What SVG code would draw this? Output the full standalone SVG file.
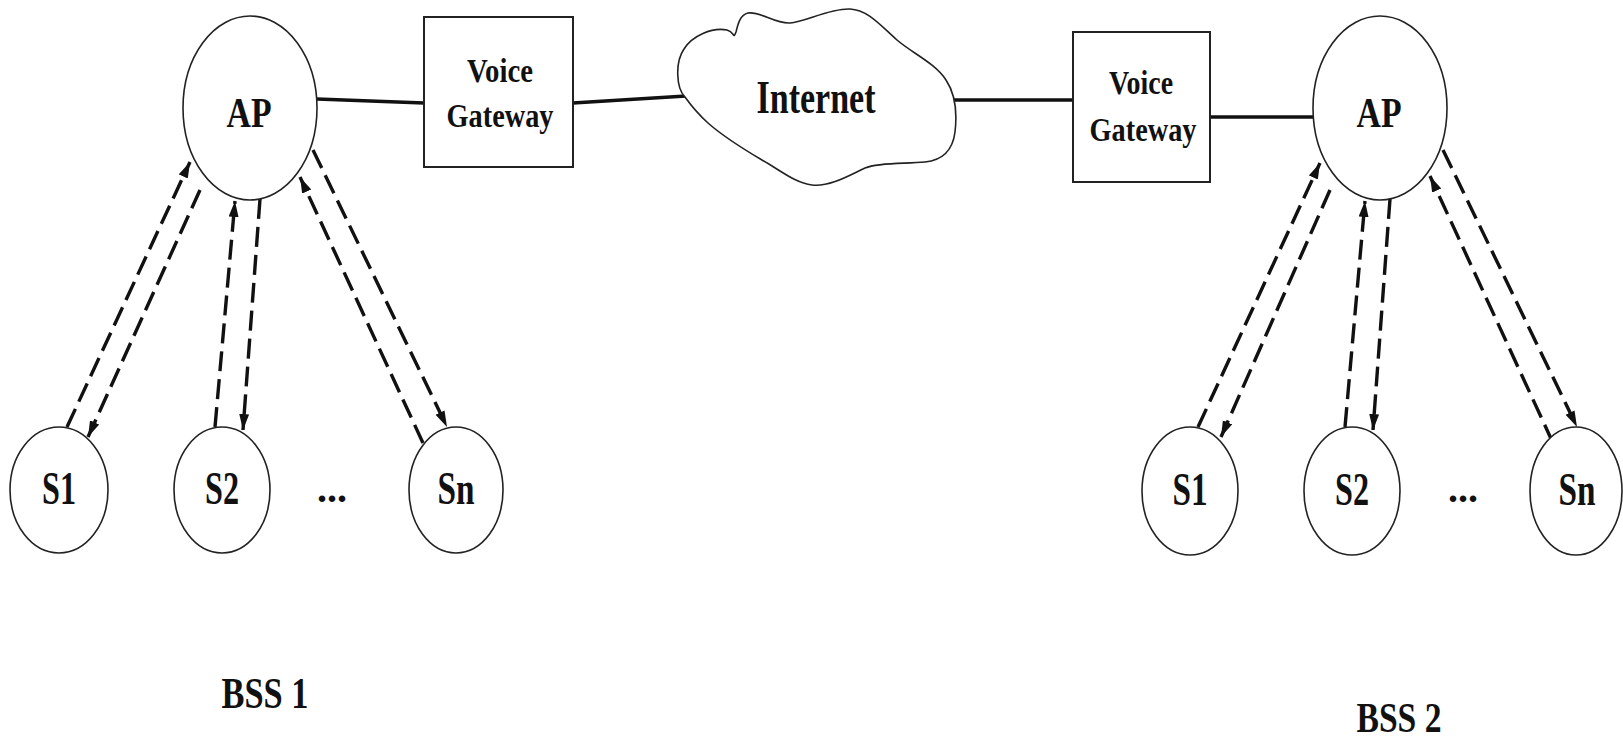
<svg xmlns="http://www.w3.org/2000/svg" width="1623" height="738" viewBox="0 0 1623 738">
  <style>
    .node { fill: #fff; stroke: #222; stroke-width: 1.6; }
    .box { fill: #fff; stroke: #222; stroke-width: 2; }
    .lbl { font-family: "Liberation Serif", "Times New Roman", serif; font-weight: bold; fill: #111; text-anchor: middle; }
    .wire { stroke: #111; stroke-width: 3.5; fill: none; }
    .radio { stroke: #111; stroke-width: 3.4; fill: none; stroke-dasharray: 20 8; }
  </style>
  <defs>
    <marker id="tip" markerUnits="userSpaceOnUse" markerWidth="17" markerHeight="11" refX="16" refY="5" orient="auto">
      <path d="M0,0 L16,5 L0,10 z" fill="#111"/>
    </marker>
  </defs>
  <rect width="1623" height="738" fill="#fff"/>

  <!-- wired backbone and wireless links -->
  <g id="connectors">
    <line class="wire" x1="317" y1="99" x2="424" y2="103"/>
    <line class="wire" x1="573" y1="103" x2="686" y2="96"/>
    <line class="wire" x1="954" y1="100" x2="1072" y2="100" stroke-width="4"/>
    <line class="wire" x1="1210" y1="117" x2="1313" y2="117" stroke-width="4"/>

    <!-- BSS 1 -->
    <line class="radio" x1="67" y1="427" x2="190" y2="162" marker-end="url(#tip)"/>
    <line class="radio" x1="200" y1="190" x2="88" y2="437" marker-end="url(#tip)"/>
    <line class="radio" x1="215" y1="427" x2="235" y2="201" marker-end="url(#tip)"/>
    <line class="radio" x1="260" y1="199" x2="243" y2="430" marker-end="url(#tip)"/>
    <line class="radio" x1="423" y1="443" x2="300" y2="177" marker-end="url(#tip)"/>
    <line class="radio" x1="313" y1="150" x2="447" y2="427" marker-end="url(#tip)"/>

    <!-- BSS 2 -->
    <line class="radio" x1="1198" y1="427" x2="1320" y2="163" marker-end="url(#tip)"/>
    <line class="radio" x1="1330" y1="190" x2="1221" y2="437" marker-end="url(#tip)"/>
    <line class="radio" x1="1345" y1="427" x2="1365" y2="201" marker-end="url(#tip)"/>
    <line class="radio" x1="1390" y1="199" x2="1373" y2="430" marker-end="url(#tip)"/>
    <line class="radio" x1="1553" y1="443" x2="1430" y2="176" marker-end="url(#tip)"/>
    <line class="radio" x1="1443" y1="150" x2="1577" y2="427" marker-end="url(#tip)"/>
  </g>

  <!-- BSS 1 -->
  <g id="ap1">
    <ellipse class="node" cx="250" cy="108" rx="67" ry="92"/>
    <text class="lbl" x="249" y="127" font-size="43" textLength="45" lengthAdjust="spacingAndGlyphs">AP</text>
  </g>
  <g id="gw1">
    <rect class="box" x="424" y="17" width="149" height="150"/>
    <text class="lbl" x="500" y="82" font-size="34" textLength="66" lengthAdjust="spacingAndGlyphs">Voice</text>
    <text class="lbl" x="500" y="127" font-size="34" textLength="107" lengthAdjust="spacingAndGlyphs">Gateway</text>
  </g>
  <g id="s1a">
    <ellipse class="node" cx="59" cy="490" rx="49" ry="63"/>
    <text class="lbl" x="59" y="504" font-size="46" textLength="34" lengthAdjust="spacingAndGlyphs">S1</text>
  </g>
  <g id="s2a">
    <ellipse class="node" cx="222" cy="490" rx="48" ry="63"/>
    <text class="lbl" x="222" y="504" font-size="46" textLength="34" lengthAdjust="spacingAndGlyphs">S2</text>
  </g>
  <text class="lbl" x="332" y="502" font-size="40">...</text>
  <g id="sna">
    <ellipse class="node" cx="456" cy="490" rx="47" ry="63"/>
    <text class="lbl" x="456" y="504" font-size="46" textLength="37" lengthAdjust="spacingAndGlyphs">Sn</text>
  </g>
  <text class="lbl" x="265" y="708" font-size="44" textLength="87" lengthAdjust="spacingAndGlyphs">BSS 1</text>

  <!-- Internet cloud -->
  <g id="internet">
    <path class="node" d="M685,97 C676,88 675,62 684,49 C692,36 712,27 727,30 C735,32 733,40 736,32 C738,24 740,15 748,13 C760,11 775,24 790,23 C805,22 830,8 850,9 C868,10 880,25 897,40 C912,53 935,63 946,80 C956,95 957,115 955,132 C953,148 945,160 925,162 C905,164 880,162 865,168 C850,175 830,187 812,185 C795,183 780,170 762,160 C745,150 725,138 708,123 C698,114 690,104 685,97 Z"/>
    <text class="lbl" x="816" y="113" font-size="46" textLength="119" lengthAdjust="spacingAndGlyphs">Internet</text>
  </g>

  <!-- BSS 2 -->
  <g id="gw2">
    <rect class="box" x="1073" y="32" width="137" height="150"/>
    <text class="lbl" x="1141" y="94" font-size="34" textLength="64" lengthAdjust="spacingAndGlyphs">Voice</text>
    <text class="lbl" x="1143" y="141" font-size="34" textLength="107" lengthAdjust="spacingAndGlyphs">Gateway</text>
  </g>
  <g id="ap2">
    <ellipse class="node" cx="1380" cy="108" rx="67" ry="92"/>
    <text class="lbl" x="1379" y="127" font-size="43" textLength="45" lengthAdjust="spacingAndGlyphs">AP</text>
  </g>
  <g id="s1b">
    <ellipse class="node" cx="1190" cy="491" rx="48" ry="64"/>
    <text class="lbl" x="1190" y="505" font-size="46" textLength="35" lengthAdjust="spacingAndGlyphs">S1</text>
  </g>
  <g id="s2b">
    <ellipse class="node" cx="1352" cy="491" rx="48" ry="64"/>
    <text class="lbl" x="1352" y="505" font-size="46" textLength="34" lengthAdjust="spacingAndGlyphs">S2</text>
  </g>
  <text class="lbl" x="1463" y="502" font-size="40">...</text>
  <g id="snb">
    <ellipse class="node" cx="1576" cy="491" rx="46" ry="64"/>
    <text class="lbl" x="1577" y="505" font-size="46" textLength="37" lengthAdjust="spacingAndGlyphs">Sn</text>
  </g>
  <text class="lbl" x="1399" y="732" font-size="43" textLength="85" lengthAdjust="spacingAndGlyphs">BSS 2</text>
</svg>
